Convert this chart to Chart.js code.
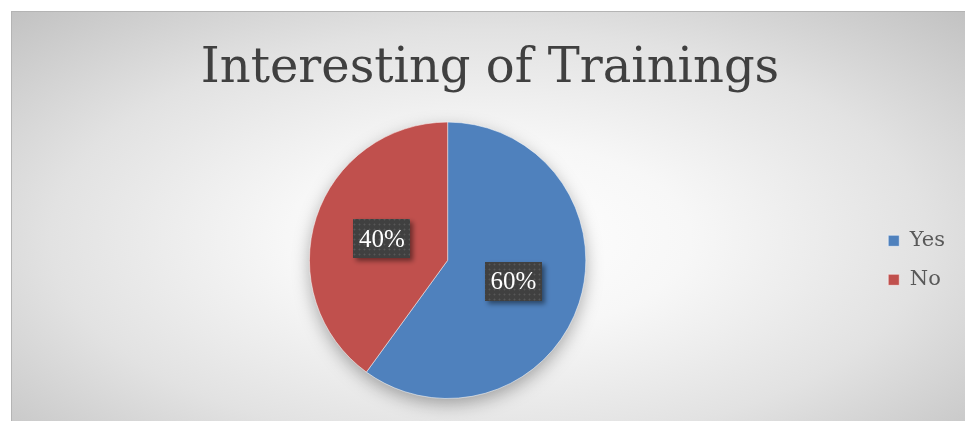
<!DOCTYPE html>
<html>
<head>
<meta charset="utf-8">
<script src="https://cdn.jsdelivr.net/npm/chart.js@4.4.0/dist/chart.umd.min.js"></script>
<style>
    html, body {
        margin: 0;
        padding: 0;
        background: #ffffff;
        overflow: hidden;
    }
    #frame {
        position: absolute;
        left: 11px;
        top: 11px;
        width: 953px;
        height: 410px;
        overflow: hidden;
        border-top: 1px solid #b4b4b4;
        border-left: 1px solid #b4b4b4;
        background: radial-gradient(ellipse at 50% 55%, #ffffff 0%, #f7f7f7 30%, #e2e2e2 65%, #c2c2c2 100%);
    }
    #chart-wrap {
        position: absolute;
        left: 0;
        top: 0;
        width: 943px;
        height: 410px;
    }
</style>
</head>
<body>
<div id="frame">
    <div id="chart-wrap"><canvas id="pie-chart"></canvas></div>
</div>

<script>
// Chart data
const chartTitle = 'Interesting of Trainings';
const categories = ['Yes', 'No'];
const shares = [60, 40];
const sliceColors = ['#4F81BD', '#C0504D'];

/**
 * Builds a small dotted texture used behind the data labels
 */
function makeLabelPattern(ctx) {
    const tile = document.createElement('canvas');
    tile.width = 5;
    tile.height = 5;
    const t = tile.getContext('2d');
    t.fillStyle = '#404040';
    t.fillRect(0, 0, 5, 5);
    t.fillStyle = '#575757';
    t.fillRect(2, 2, 1, 1);
    t.fillStyle = '#4a4a4a';
    t.fillRect(1, 2, 1, 1);
    t.fillRect(3, 2, 1, 1);
    t.fillRect(2, 1, 1, 1);
    t.fillRect(2, 3, 1, 1);
    return ctx.createPattern(tile, 'repeat');
}

// Soft shadow under the whole pie
const pieShadow = {
    id: 'pieShadow',
    beforeDatasetsDraw(chart) {
        const arc = chart.getDatasetMeta(0).data[0];
        if (!arc) return;
        const ctx = chart.ctx;
        ctx.save();
        ctx.shadowColor = 'rgba(0, 0, 0, 0.35)';
        ctx.shadowBlur = 18;
        ctx.shadowOffsetY = 6;
        ctx.fillStyle = '#8a8a8a';
        ctx.beginPath();
        ctx.arc(arc.x, arc.y, arc.outerRadius - 1, 0, Math.PI * 2);
        ctx.fill();
        ctx.restore();
    }
};

// Dark percentage boxes on each slice
const percentLabels = {
    id: 'percentLabels',
    afterDatasetsDraw(chart) {
        const ctx = chart.ctx;
        const data = chart.data.datasets[0].data;
        const total = data.reduce((a, b) => a + b, 0);
        const pattern = makeLabelPattern(ctx);
        chart.getDatasetMeta(0).data.forEach((arc, i) => {
            const pos = arc.tooltipPosition();
            const text = Math.round(data[i] / total * 100) + '%';
            const w = 57, h = 39;
            ctx.save();
            ctx.shadowColor = 'rgba(0, 0, 0, 0.45)';
            ctx.shadowBlur = 5;
            ctx.shadowOffsetX = 3;
            ctx.shadowOffsetY = 3;
            ctx.fillStyle = pattern;
            ctx.fillRect(Math.round(pos.x - w / 2), Math.round(pos.y - h / 2), w, h);
            ctx.restore();

            ctx.save();
            ctx.fillStyle = '#ffffff';
            ctx.font = '25px "Liberation Serif"';
            ctx.textAlign = 'center';
            ctx.textBaseline = 'middle';
            ctx.fillText(text, pos.x, pos.y + 1);
            ctx.restore();
        });
    }
};

const ctx = document.getElementById('pie-chart').getContext('2d');

new Chart(ctx, {
    type: 'pie',
    data: {
        labels: categories,
        datasets: [{
            data: shares,
            backgroundColor: sliceColors,
            borderColor: 'rgba(255, 255, 255, 0.5)',
            borderWidth: 1
        }]
    },
    options: {
        responsive: true,
        maintainAspectRatio: false,
        animation: false,
        layout: {
            padding: { left: 13, right: 0, top: 0, bottom: 23 }
        },
        plugins: {
            title: {
                display: true,
                text: chartTitle,
                color: '#404040',
                font: { family: '"DejaVu Serif", serif', size: 48, weight: 'normal' },
                padding: { top: 29, bottom: 23 }
            },
            legend: {
                position: 'right',
                fullSize: false,
                labels: {
                    boxWidth: 11,
                    boxHeight: 11,
                    padding: 18,
                    color: '#595959',
                    font: { family: '"DejaVu Serif", serif', size: 21 }
                }
            },
            tooltip: { enabled: false }
        }
    },
    plugins: [pieShadow, percentLabels]
});
</script>
</body>
</html>
